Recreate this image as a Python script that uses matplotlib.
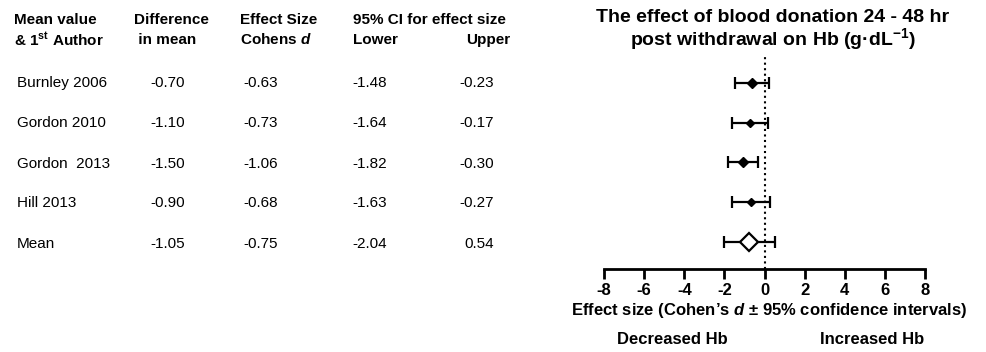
import matplotlib
matplotlib.use("Agg")
import matplotlib.pyplot as plt

plt.rcParams['font.family'] = ['Liberation Sans', 'DejaVu Sans']
plt.rcParams['mathtext.fontset'] = 'custom'
plt.rcParams['mathtext.rm'] = 'Liberation Sans'
plt.rcParams['mathtext.it'] = 'Liberation Sans:italic'
plt.rcParams['mathtext.bf'] = 'Liberation Sans:bold'
plt.rcParams['mathtext.bfit'] = 'Liberation Sans:italic:bold'

# Dados da tabela
estudos = ['Burnley 2006', 'Gordon 2010', 'Gordon  2013', 'Hill 2013', 'Mean']
dif_media = ['-0.70', '-1.10', '-1.50', '-0.90', '-1.05']
cohens_d = ['-0.63', '-0.73', '-1.06', '-0.68', '-0.75']
ic_inf = ['-1.48', '-1.64', '-1.82', '-1.63', '-2.04']
ic_sup = ['-0.23', '-0.17', '-0.30', '-0.27', '0.54']

# Valores como aparecem no gráfico
d_plot = [-0.63, -0.73, -1.06, -0.68, -0.75]
inf_plot = [-1.48, -1.64, -1.82, -1.63, -2.04]
sup_plot = [0.23, 0.17, -0.30, 0.27, 0.54]
linhas = [5, 4, 3, 2, 1]

xticks = [-8, -6, -4, -2, 0, 2, 4, 6, 8]

W, H = 986, 352
fig = plt.figure(figsize=(W / 100, H / 100), dpi=100)

def px(x, y):
    return x / W, 1 - y / H

# Cabeçalho da tabela
cab = [
    (14, 'Mean value', r'& 1$^{\mathbf{st}}$ Author'),
    (134, 'Difference', ' in mean'),
    (240, 'Effect Size', r'Cohens $\mathbfit{d}$'),
]
for x, l1, l2 in cab:
    fig.text(*px(x, 20), l1, fontsize=11, fontweight='bold', va='center')
    fig.text(*px(x, 40), l2, fontsize=11, fontweight='bold', va='center')
fig.text(*px(353, 20), '95% CI for effect size', fontsize=11, fontweight='bold', va='center')
fig.text(*px(353, 40), 'Lower', fontsize=11, fontweight='bold', va='center')
fig.text(*px(510, 40), 'Upper', fontsize=11, fontweight='bold', va='center', ha='right')

# Linhas da tabela
ys = [83, 123, 164, 203, 244]
for i in range(len(estudos)):
    y = ys[i]
    fig.text(*px(17, y), estudos[i], fontsize=11, va='center')
    fig.text(*px(150, y), dif_media[i], fontsize=11, va='center')
    fig.text(*px(243, y), cohens_d[i], fontsize=11, va='center')
    fig.text(*px(352, y), ic_inf[i], fontsize=11, va='center')
    fig.text(*px(494, y), ic_sup[i], fontsize=11, va='center', ha='right')

# Gráfico forest plot
ax = fig.add_axes([604 / W, 1 - 269 / H, 321 / W, (269 - 55) / H])
tamanhos = [5.4, 4.2, 5.2, 4.0]
for i in range(4):
    ax.errorbar(d_plot[i], linhas[i],
                xerr=[[d_plot[i] - inf_plot[i]], [sup_plot[i] - d_plot[i]]],
                fmt='D', color='black', ms=tamanhos[i], elinewidth=1.6,
                capsize=4.6, capthick=1.6)
ax.errorbar(d_plot[4], linhas[4],
            xerr=[[d_plot[4] - inf_plot[4]], [sup_plot[4] - d_plot[4]]],
            fmt='D', color='black', mfc='white', mec='black', mew=1.6, ms=9.5,
            elinewidth=1.6, capsize=4.6, capthick=1.6, zorder=3)

ax.axvline(0, color='black', linestyle=':', lw=1.5, zorder=1)
ax.set_xlim(-8, 8)
ax.set_ylim(0.32, 5.7)
ax.set_xticks(xticks)
ax.set_xticklabels([str(t) for t in xticks], fontsize=12, fontweight='bold')
ax.set_yticks([])
for s in ['top', 'right', 'left']:
    ax.spines[s].set_visible(False)
ax.spines['bottom'].set_linewidth(2)
ax.tick_params(axis='x', direction='out', length=7, width=2, pad=3)
ax.patch.set_alpha(0)

fig.text(*px(773, 17), 'The effect of blood donation 24 - 48 hr', fontsize=14,
         fontweight='bold', ha='center', va='center')
fig.text(*px(773, 39), r'post withdrawal on Hb (g·dL$^{\mathbf{-1}}$)', fontsize=14,
         fontweight='bold', ha='center', va='center')
fig.text(*px(769, 311), r'Effect size (Cohen’s $\mathbfit{d}$ ± 95% confidence intervals)',
         fontsize=12, fontweight='bold', ha='center', va='center')
fig.text(*px(672, 340), 'Decreased Hb', fontsize=12, fontweight='bold', ha='center', va='center')
fig.text(*px(872, 340), 'Increased Hb', fontsize=12, fontweight='bold', ha='center', va='center')

fig.savefig('out.png', dpi=100)
